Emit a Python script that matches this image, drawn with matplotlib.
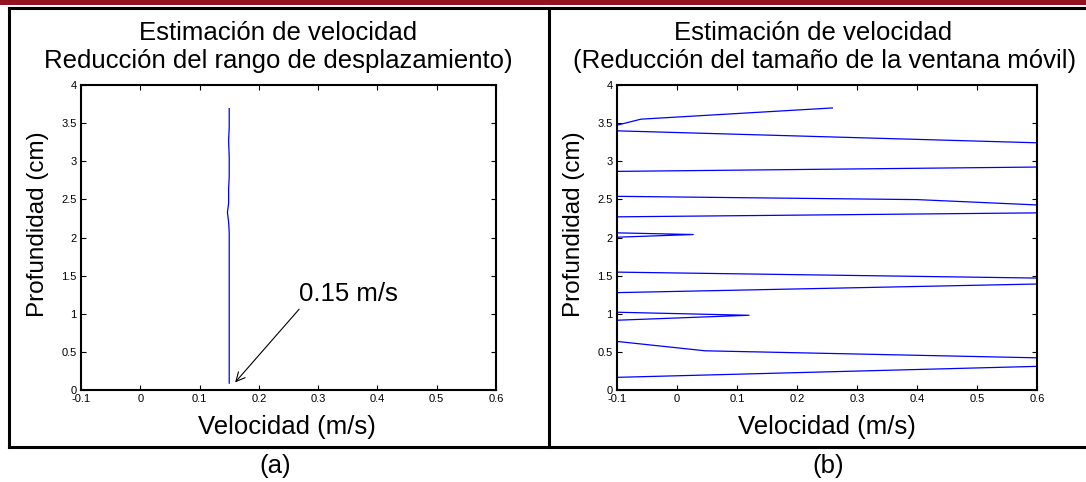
import matplotlib
matplotlib.use("Agg")
import matplotlib.pyplot as plt
from matplotlib.lines import Line2D
from matplotlib.patches import Rectangle

plt.rcParams['font.family'] = ['Liberation Sans', 'DejaVu Sans']

# data
vel_ticks = [-0.1, 0, 0.1, 0.2, 0.3, 0.4, 0.5, 0.6]
depth_ticks = [0, 0.5, 1, 1.5, 2, 2.5, 3, 3.5, 4]

# (a) reduced displacement range
depth_a = [0.09, 2.07, 2.20, 2.33, 2.45, 2.64, 2.80, 3.05, 3.27, 3.45, 3.69]
vel_a = [0.150, 0.150, 0.149, 0.147, 0.149, 0.149, 0.150, 0.150, 0.149, 0.150, 0.150]

# (b) reduced moving window size
vel_b = [-0.25, -0.1, 0.6, 0.75, 0.6, 0.047, -0.1, -0.25, -0.1, 0.12, -0.1, -0.25,
         -0.1, 0.6, 0.75, 0.6, -0.1, -0.25, -0.1, 0.027, -0.1, -0.25, -0.1, 0.6,
         0.75, 0.6, 0.40, -0.1, -0.25, -0.1, 0.6, 0.75, 0.6, -0.1, -0.25, -0.1,
         -0.06, 0.259]
depth_b = [0.13, 0.166, 0.310, 0.366, 0.422, 0.514, 0.637, 0.78, 0.915, 0.980, 1.020, 1.15,
           1.277, 1.390, 1.43, 1.468, 1.546, 1.78, 2.004, 2.039, 2.061, 2.17, 2.271, 2.323,
           2.375, 2.427, 2.497, 2.540, 2.70, 2.867, 2.924, 3.08, 3.242, 3.399, 3.44, 3.473,
           3.552, 3.699]

W, H = 1086, 482
fig = plt.figure(figsize=(W / 100, H / 100), dpi=100)
fig.patch.set_facecolor('white')


def px(x0, y0, x1, y1):
    # pixel box -> figure fraction [left, bottom, width, height]
    return [x0 / W, 1 - y1 / H, (x1 - x0) / W, (y1 - y0) / H]


def style_ax(ax):
    ax.set_xlim(-0.1, 0.6)
    ax.set_ylim(0, 4)
    ax.set_xticks(vel_ticks)
    ax.set_yticks(depth_ticks)
    ax.xaxis.set_major_formatter(plt.FuncFormatter(lambda v, _: f'{v:g}'))
    ax.yaxis.set_major_formatter(plt.FuncFormatter(lambda v, _: f'{v:g}'))
    ax.tick_params(direction='in', length=3.5, width=0.8, labelsize=8,
                   top=True, right=True, pad=3, colors='black')
    for s in ax.spines.values():
        s.set_linewidth(1.5)
        s.set_color('black')


ax_a = fig.add_axes(px(81, 85, 496, 390))
ax_b = fig.add_axes(px(617, 85, 1037, 390))

ax_a.plot(vel_a, depth_a, color='#0000ff', lw=0.9)
style_ax(ax_a)
ax_a.annotate('', xy=(0.160, 0.10), xytext=(0.268, 1.06),
              arrowprops=dict(arrowstyle='->', color='black', lw=0.8,
                              mutation_scale=16, shrinkA=0, shrinkB=0))
ax_a.text(0.268, 1.26, '0.15 m/s', fontsize=18.5, ha='left', va='center')

ax_b.plot(vel_b, depth_b, color='#0000ff', lw=0.9)
style_ax(ax_b)

# titles, labels
big = 18.5
fig.text(278 / W, 1 - 33 / H, 'Estimación de velocidad', ha='center', va='center', fontsize=big)
fig.text(278 / W, 1 - 61 / H, 'Reducción del rango de desplazamiento)', ha='center', va='center', fontsize=big)
fig.text(813 / W, 1 - 33 / H, 'Estimación de velocidad', ha='center', va='center', fontsize=big)
fig.text(825 / W, 1 - 61 / H, '(Reducción del tamaño de la ventana móvil)', ha='center', va='center', fontsize=big)

fig.text(287 / W, 1 - 427 / H, 'Velocidad (m/s)', ha='center', va='center', fontsize=big)
fig.text(827 / W, 1 - 427 / H, 'Velocidad (m/s)', ha='center', va='center', fontsize=big)
fig.text(38 / W, 1 - 224 / H, 'Profundidad (cm)', ha='center', va='center', rotation=90, fontsize=17.5)
fig.text(574 / W, 1 - 224 / H, 'Profundidad (cm)', ha='center', va='center', rotation=90, fontsize=17.5)

fig.text(275 / W, 1 - 466 / H, '(a)', ha='center', va='center', fontsize=big)
fig.text(828 / W, 1 - 466 / H, '(b)', ha='center', va='center', fontsize=big)

# red header bar and panel frames
fig.patches.append(Rectangle((0, 1 - 5 / H), 1, 5 / H, transform=fig.transFigure,
                             facecolor='#921420', edgecolor='none', zorder=5))
frame = dict(color='black', lw=2.2, transform=fig.transFigure, solid_capstyle='projecting')
fig.lines.append(Line2D([9 / W, 1], [1 - 8 / H, 1 - 8 / H], **frame))
fig.lines.append(Line2D([9 / W, 1], [1 - 447 / H, 1 - 447 / H], **frame))
fig.lines.append(Line2D([9 / W, 9 / W], [1 - 8 / H, 1 - 447 / H], **frame))
fig.lines.append(Line2D([549 / W, 549 / W], [1 - 8 / H, 1 - 447 / H], **frame))

fig.savefig('out.png', dpi=100)
